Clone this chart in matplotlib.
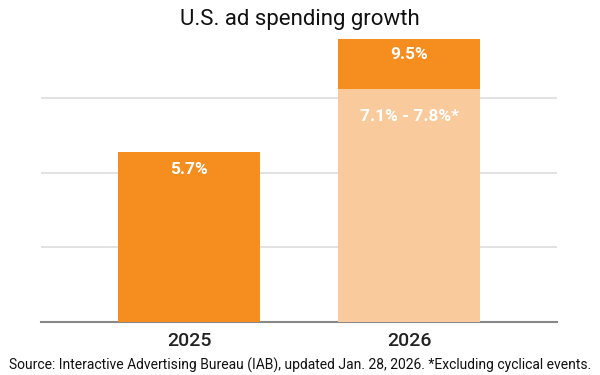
import matplotlib
matplotlib.use("Agg")
import matplotlib.pyplot as plt

# data
years = ["2025", "2026"]
base_vals = [5.7, 7.8]        # 2025 actual, 2026 low-scenario (excl. cyclical)
top_vals = [0.0, 1.7]         # extra on top of base for 2026 -> 9.5
base_labels = ["5.7%", "7.1% - 7.8%*"]
top_labels = ["", "9.5%"]
grid_ticks = [2.5, 5, 7.5]

orange = "#F58D1F"
peach = "#F8CA9C"

plt.rcParams["font.family"] = ["Roboto", "DejaVu Sans"]

fig = plt.figure(figsize=(6, 3.75), dpi=100)
ax = fig.add_axes([41/600, 53/375, 516/600, 298.4/375])

x = range(len(years))
w = 0.645
base_colors = [orange, peach]
ax.bar(x, base_vals, width=w, color=base_colors, zorder=3)
ax.bar(x, top_vals, width=w, bottom=base_vals, color=orange, zorder=3)

for i in x:
    if top_vals[i] > 0:
        ax.text(i, base_vals[i] + top_vals[i] - 0.55, top_labels[i], ha="center",
                va="center", color="white", fontsize=12.5, fontweight="bold")
        ax.text(i, base_vals[i] - 0.9, base_labels[i], ha="center",
                va="center", color="white", fontsize=12.5, fontweight="bold")
    else:
        ax.text(i, base_vals[i] - 0.6, base_labels[i], ha="center",
                va="center", color="white", fontsize=12.5, fontweight="bold")

ax.set_xlim(-0.675, 1.672)
ax.set_ylim(0, 10)
ax.set_yticks(grid_ticks)
ax.set_yticklabels([])
ax.tick_params(axis="y", length=0)
ax.grid(axis="y", color="#DDDDDD", linewidth=1.2, zorder=0)
ax.set_xticks(list(x))
ax.set_xticklabels(years, fontsize=14, fontweight="medium", color="#222222")
ax.tick_params(axis="x", length=0, pad=7)
for s in ["top", "right", "left"]:
    ax.spines[s].set_visible(False)
ax.spines["bottom"].set_color("#888888")
ax.spines["bottom"].set_linewidth(1.5)

fig.text(0.5, 1 - 20/375, "U.S. ad spending growth", ha="center", va="center",
         fontsize=16, color="#111111")
fig.text(0.5, 1 - 365/375, "Source: Interactive Advertising Bureau (IAB), updated Jan. 28, 2026. *Excluding cyclical events.",
         ha="center", va="center", fontsize=10, color="#111111")

fig.savefig("out.png", dpi=100)
